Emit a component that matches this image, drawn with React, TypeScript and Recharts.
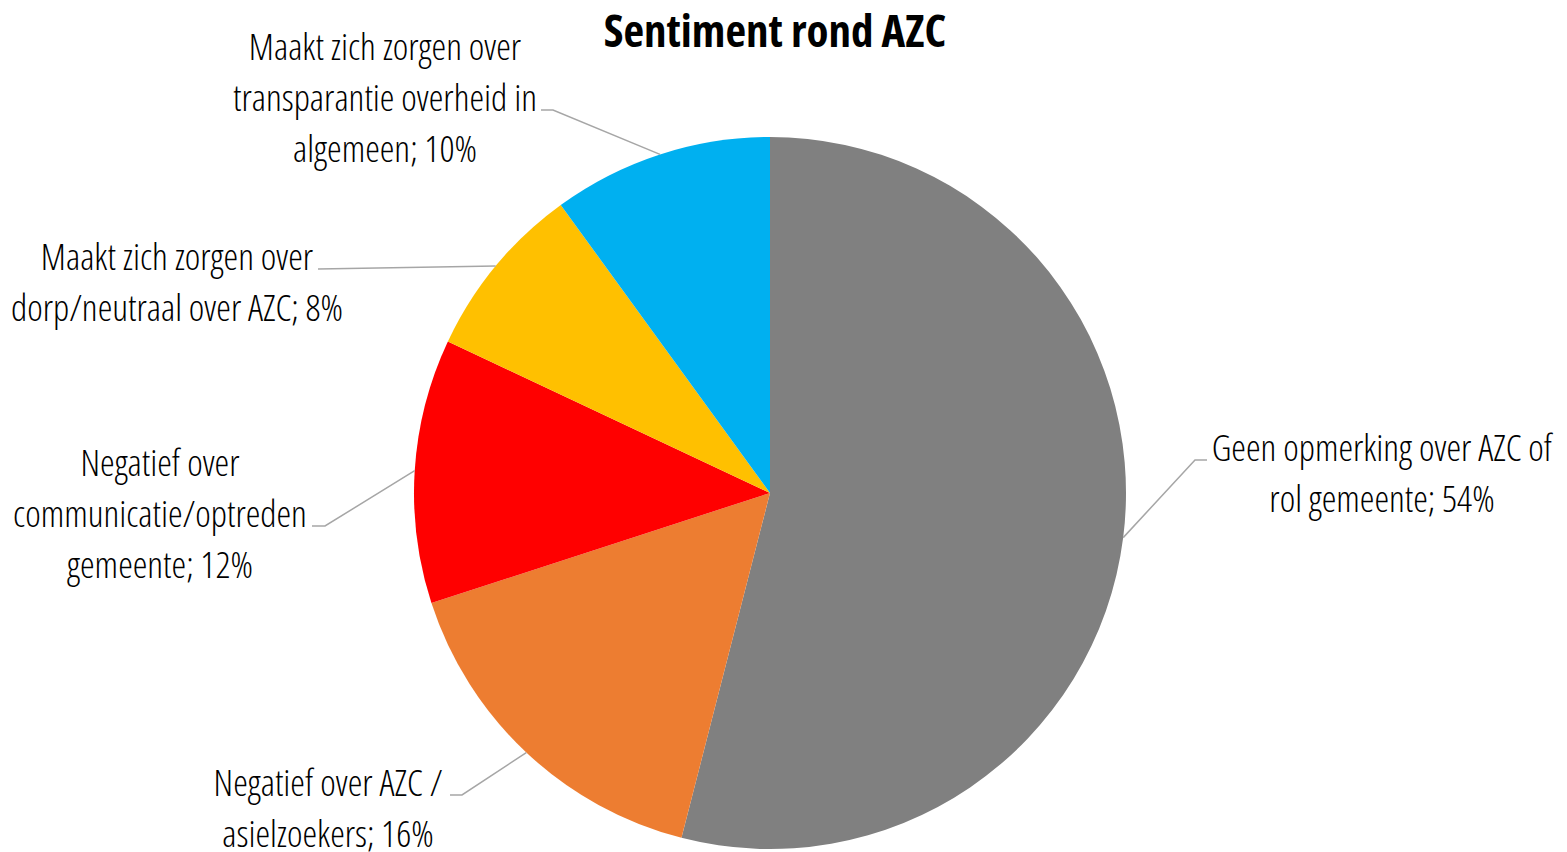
import { PieChart, Pie, Cell } from 'recharts';

const categories = [
  'Geen opmerking over AZC of rol gemeente',
  'Negatief over AZC / asielzoekers',
  'Negatief over communicatie/optreden gemeente',
  'Maakt zich zorgen over dorp/neutraal over AZC',
  'Maakt zich zorgen over transparantie overheid in algemeen',
];
const shares = [54, 16, 12, 8, 10];
const labelLines = [
  ['Geen opmerking over AZC of', 'rol gemeente;'],
  ['Negatief over AZC /', 'asielzoekers;'],
  ['Negatief over', 'communicatie/optreden', 'gemeente;'],
  ['Maakt zich zorgen over', 'dorp/neutraal over AZC;'],
  ['Maakt zich zorgen over', 'transparantie overheid in', 'algemeen;'],
];
const colors = ['#808080', '#ED7D31', '#FF0000', '#FFC000', '#00B0F0'];

const data = categories.map((name, i) => ({ name, value: shares[i] }));

// leader elbow + text block placement (chart coords)
const labelLayout = [
  { elbow: [1187, 452], end: [1199, 452], tx: 1374, ty: 438 },
  { elbow: [454, 787], end: [442, 787], tx: 320, ty: 773 },
  { elbow: [317, 518], end: [304, 518], tx: 152, ty: 453 },
  { elbow: [310, 261], end: [310, 261], tx: 169, ty: 247 },
  { elbow: [545, 102], end: [533, 102], tx: 377, ty: 37 },
];

const FONT = "'Open Sans', sans-serif";
const RAD = Math.PI / 180;

function renderLabel(props: any) {
  const { cx, cy, midAngle, outerRadius, index, value } = props;
  const ex = cx + outerRadius * Math.cos(-midAngle * RAD);
  const ey = cy + outerRadius * Math.sin(-midAngle * RAD);
  const lay = labelLayout[index];
  const lines = labelLines[index].slice();
  lines[lines.length - 1] = lines[lines.length - 1] + ' ' + value + '%';
  return (
    <g key={'lbl' + index}>
      <polyline
        points={`${ex},${ey} ${lay.elbow[0]},${lay.elbow[1]} ${lay.end[0]},${lay.end[1]}`}
        fill="none"
        stroke="#a6a6a6"
        strokeWidth={1.5}
      />
      <text
        x={lay.tx}
        y={lay.ty}
        textAnchor="middle"
        fontFamily={FONT}
        fontWeight={300}
        fontSize={37}
        style={{ fontStretch: '75%', fontWeight: 300 }}
        fill="#000"
      >
        {lines.map((l, i) => (
          <tspan key={i} x={lay.tx} y={lay.ty + i * 51} dominantBaseline="central">
            {l}
          </tspan>
        ))}
      </text>
    </g>
  );
}

export default function App() {
  return (
    <div style={{ width: 1559, height: 844, background: '#fff' }}>
      <PieChart width={1559} height={844} margin={{ top: 0, right: 0, bottom: 0, left: 0 }}>
        <text
          x={767}
          y={21}
          textAnchor="middle"
          dominantBaseline="central"
          fontFamily={FONT}
          fontWeight={700}
          fontSize={45}
          style={{ fontStretch: '75%', fontWeight: 700 }}
          fill="#000"
        >
          Sentiment rond AZC
        </text>
        <Pie
          data={data}
          dataKey="value"
          nameKey="name"
          cx={762}
          cy={485}
          outerRadius={356}
          startAngle={90}
          endAngle={-270}
          label={renderLabel}
          labelLine={false}
          stroke="none"
          isAnimationActive={false}
        >
          {data.map((d, i) => (
            <Cell key={d.name} fill={colors[i]} />
          ))}
        </Pie>
      </PieChart>
    </div>
  );
}
